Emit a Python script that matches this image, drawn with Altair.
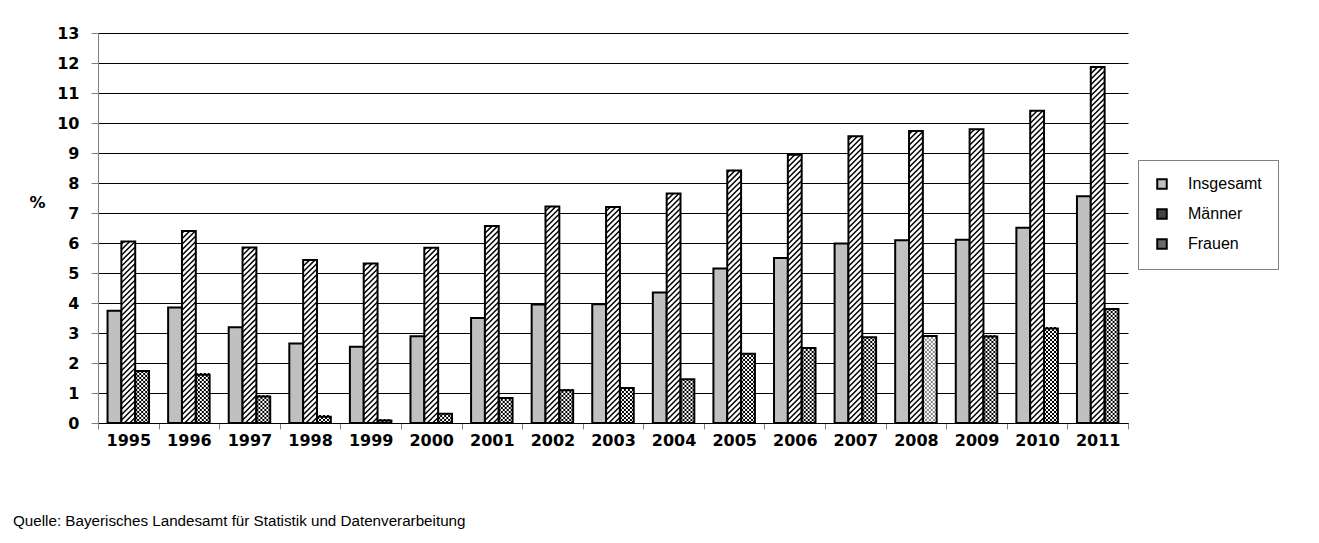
import json
import altair as alt
import pandas as pd

# ---------------- data ----------------
years = [1995, 1996, 1997, 1998, 1999, 2000, 2001, 2002, 2003, 2004,
         2005, 2006, 2007, 2008, 2009, 2010, 2011]
insgesamt = [3.74, 3.85, 3.19, 2.65, 2.54, 2.89, 3.50, 3.95, 3.96, 4.35,
             5.15, 5.50, 5.98, 6.09, 6.11, 6.51, 7.56]
maenner = [6.05, 6.40, 5.85, 5.43, 5.32, 5.84, 6.57, 7.22, 7.20, 7.65,
           8.42, 8.94, 9.56, 9.73, 9.79, 10.41, 11.87]
frauen = [1.73, 1.61, 0.88, 0.21, 0.08, 0.31, 0.83, 1.09, 1.17, 1.46,
          2.31, 2.50, 2.86, 2.90, 2.88, 3.15, 3.80]
series_names = ["Insgesamt", "Männer", "Frauen"]
y_ticks = list(range(0, 14))
source_text = "Quelle: Bayerisches Landesamt für Statistik und Datenverarbeitung"

rows = []
for i, yr in enumerate(years):
    for j, vals in enumerate([insgesamt, maenner, frauen]):
        rows.append({"year": str(yr), "idx": i, "series": series_names[j],
                     "sidx": j, "value": vals[i]})
df = pd.DataFrame(rows)

# ---------------- layout / style ----------------
W, H = 1030, 390
N = len(years)
YMAX = 13
PX_X = W / N
PX_Y = H / YMAX
GROUP = 0.685
BAR = GROUP / 3
OFF = (1 - GROUP) / 2
D = BAR * PX_X / PX_Y          # 45 degree rise across one bar (y units)
P = 5.5 / PX_Y                 # hatch spacing
C = 2 / PX_Y                   # checker cell height

FONT = "Liberation Sans"
AXFONT = "DejaVu Sans"

x_scale = alt.Scale(domain=[0, N], nice=False, zero=False)
y_scale = alt.Scale(domain=[0, YMAX], nice=False, zero=True)

year_labels = json.dumps([str(y) for y in years])
x_axis = alt.Axis(
    values=list(range(N + 1)),
    labelExpr=f"datum.value < {N} ? {year_labels}[datum.value] : ''",
    labelOffset=PX_X / 2, labelFlush=False, labelOverlap=False, labelBound=False,
    grid=False, ticks=True, tickSize=6, tickColor="#808080",
    domainColor="#000000", domainWidth=1,
    labelFont=AXFONT, labelFontSize=16, labelFontWeight="bold", labelColor="#000000",
    labelPadding=3, title=None,
)
y_axis = alt.Axis(
    values=y_ticks, grid=True, gridColor="#000000", gridWidth=1,
    domainColor="#808080", tickColor="#808080", tickSize=7,
    labelFont=AXFONT, labelFontSize=16, labelFontWeight="bold", labelColor="#000000",
    labelPadding=12, labelFlush=False, labelOverlap=False,
    title="%", titleAngle=0, titleX=-61, titleY=169, titleAlign="center",
    titleBaseline="middle", titleFont=AXFONT, titleFontSize=16,
    titleFontWeight="bold", titleColor="#000000",
)

base = alt.Chart(df).transform_calculate(
    xl=f"datum.idx + {OFF} + datum.sidx * {BAR}",
    xr=f"datum.idx + {OFF} + (datum.sidx + 1) * {BAR}",
)


def rect_enc():
    return dict(
        x=alt.X("xl:Q", scale=x_scale, axis=x_axis),
        x2="xr:Q",
        y=alt.Y("value:Q", scale=y_scale, axis=y_axis),
        y2=alt.datum(0),
    )


# legend helper layer (invisible marks, visible legend)
legend_layer = base.mark_point(shape="square", filled=True, opacity=0).encode(
    x=alt.X("xl:Q", scale=x_scale, axis=x_axis),
    y=alt.Y("value:Q", scale=y_scale, axis=y_axis),
    color=alt.Color(
        "series:N",
        scale=alt.Scale(domain=series_names, range=["#c0c0c0", "#444444", "#6a6a6a"]),
        legend=alt.Legend(
            title=None, orient="none", legendX=1040, legendY=127,
            symbolType="square", symbolSize=90, symbolStrokeColor="#000000",
            symbolStrokeWidth=2, symbolOpacity=1,
            labelFont=FONT, labelFontSize=16, labelColor="#000000",
            labelOffset=18, rowPadding=12, padding=16,
            strokeColor="#808080", fillColor="#ffffff",
        ),
    ),
)

ins_bars = base.transform_filter("datum.sidx == 0").mark_rect(
    fill="#c0c0c0", stroke="#000000", strokeWidth=2
).encode(**rect_enc())

m_bg = base.transform_filter("datum.sidx == 1").mark_rect(fill="#ffffff").encode(**rect_enc())
f_bg = base.transform_filter("datum.sidx == 2").mark_rect(fill="#ffffff").encode(**rect_enc())

hatch = base.transform_filter("datum.sidx == 1").transform_calculate(
    seq=f"sequence({-D}, datum.value, {P})"
).transform_flatten(["seq"], as_=["y0"]).transform_calculate(
    ya="max(datum.y0, 0)",
    yb=f"min(datum.y0 + {D}, datum.value)",
).transform_calculate(
    xa=f"datum.xl + (datum.ya - datum.y0) / {D} * {BAR}",
    xb=f"datum.xl + (datum.yb - datum.y0) / {D} * {BAR}",
).transform_filter("datum.yb > datum.ya").mark_rule(
    color="#000000", strokeWidth=1.5, strokeCap="butt"
).encode(
    x=alt.X("xa:Q", scale=x_scale, axis=x_axis),
    x2="xb:Q",
    y=alt.Y("ya:Q", scale=y_scale, axis=y_axis),
    y2="yb:Q",
)


def checker(parity, dash_offset):
    return base.transform_filter("datum.sidx == 2").transform_calculate(
        seq=f"sequence(0, datum.value, {C})"
    ).transform_flatten(["seq"], as_=["yk"]).transform_calculate(
        k=f"round(datum.yk / {C})",
        yc=f"datum.yk + {C / 2}",
    ).transform_filter(
        f"datum.k % 2 == {parity} && datum.yc < datum.value + {C / 2}"
    ).mark_rule(strokeWidth=2, strokeDash=[2, 2], strokeDashOffset=dash_offset,
                strokeCap="butt").encode(
        x=alt.X("xl:Q", scale=x_scale, axis=x_axis),
        x2="xr:Q",
        y=alt.Y("yc:Q", scale=y_scale, axis=y_axis),
        stroke=alt.condition("datum.year == '2008'", alt.value("#8a8a8a"), alt.value("#000000")),
    )


outline = base.transform_filter("datum.sidx > 0").mark_rect(
    fill="#ffffff", fillOpacity=0, stroke="#000000", strokeWidth=2
).encode(**rect_enc())

chart = alt.layer(
    legend_layer, ins_bars, m_bg, hatch, f_bg, checker(0, 0), checker(1, 2), outline
).properties(
    width=W, height=H,
    autosize=alt.AutoSizeParams(type="none"),
    padding={"left": 90, "top": 25, "right": 183, "bottom": 112},
    background="#ffffff",
    title=alt.TitleParams(
        text=source_text, orient="bottom", anchor="start", frame="group",
        dx=-85, offset=66, font=FONT, fontSize=15.2, fontWeight="normal",
        color="#000000", baseline="top",
    ),
).configure_view(strokeWidth=0)

chart.save("out.html", embed_options={"renderer": "svg", "actions": False})
